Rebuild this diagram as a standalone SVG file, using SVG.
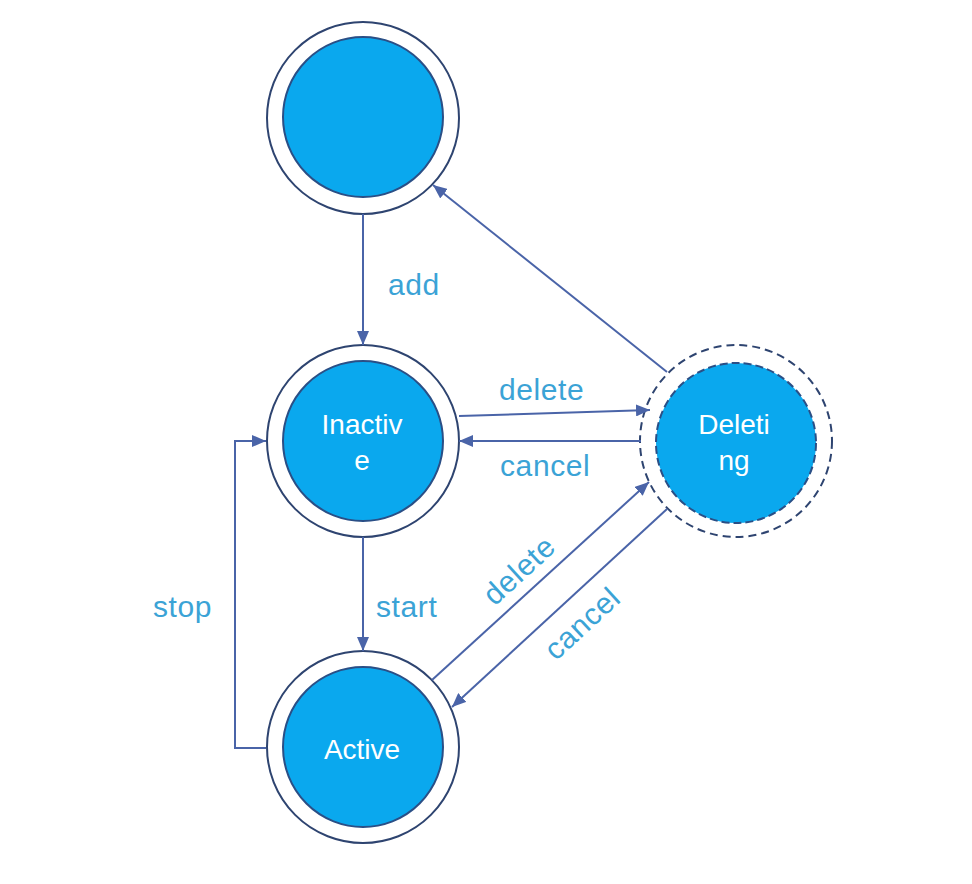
<svg xmlns="http://www.w3.org/2000/svg" width="972" height="884" viewBox="0 0 972 884">
<defs>
<style>
.outer{fill:#ffffff;stroke:#2e4470;stroke-width:2}
.inner{fill:#0aa8ee;stroke:#2a4f86;stroke-width:2}
.douter{fill:#ffffff;stroke:#2e4470;stroke-width:2;stroke-dasharray:8 5}
.dinner{fill:#0aa8ee;stroke:#2a4f86;stroke-width:2;stroke-dasharray:8 4}
.conn{fill:none;stroke:#4a64a8;stroke-width:2}
.ntext{font-family:"Liberation Sans",Arial,sans-serif;font-size:28px;fill:#ffffff;text-anchor:middle}
.ltext{font-family:"Liberation Sans",Arial,sans-serif;font-size:30px;fill:#3ba3d6;letter-spacing:0.6px}
</style>
<marker id="arr" viewBox="0 0 14 12" refX="14" refY="6" markerWidth="14" markerHeight="12" markerUnits="userSpaceOnUse" orient="auto">
<path d="M0,0 L14,6 L0,12 Z" fill="#4a64a8"/>
</marker>
</defs>
<rect width="972" height="884" fill="#ffffff"/>
<g id="start-node">
<circle class="outer" cx="363" cy="118" r="96"/>
<circle class="inner" cx="363" cy="117" r="80"/>
</g>
<g id="inactive">
<circle class="outer" cx="363" cy="441" r="96"/>
<circle class="inner" cx="363" cy="441" r="80"/>
<text class="ntext" x="362" y="434">Inactiv</text>
<text class="ntext" x="362" y="470">e</text>
</g>
<g id="deleting">
<circle class="douter" cx="736" cy="441" r="96"/>
<circle class="dinner" cx="736" cy="443" r="80"/>
<text class="ntext" x="734" y="434">Deleti</text>
<text class="ntext" x="734" y="470">ng</text>
</g>
<g id="active">
<circle class="outer" cx="363" cy="747" r="96"/>
<circle class="inner" cx="363" cy="747" r="80"/>
<text class="ntext" x="362" y="759">Active</text>
</g>
<g id="connectors">
<line class="conn" x1="363" y1="214" x2="363" y2="345" marker-end="url(#arr)"/>
<line class="conn" x1="667" y1="372" x2="433" y2="185" marker-end="url(#arr)"/>
<line class="conn" x1="459" y1="416" x2="650" y2="410" marker-end="url(#arr)"/>
<line class="conn" x1="641" y1="441" x2="459" y2="441" marker-end="url(#arr)"/>
<line class="conn" x1="363" y1="537" x2="363" y2="651" marker-end="url(#arr)"/>
<polyline class="conn" points="266,748 235,748 235,441 266,441" marker-end="url(#arr)"/>
<line class="conn" x1="432" y1="680" x2="649" y2="482" marker-end="url(#arr)"/>
<line class="conn" x1="667" y1="509" x2="452" y2="707" marker-end="url(#arr)"/>
</g>
<g id="labels">
<text class="ltext" x="388" y="295">add</text>
<text class="ltext" x="499" y="400">delete</text>
<text class="ltext" x="500" y="476">cancel</text>
<text class="ltext" x="376" y="617">start</text>
<text class="ltext" x="153" y="617">stop</text>
<text class="ltext" text-anchor="middle" transform="translate(526,578) rotate(-42.5)">delete</text>
<text class="ltext" text-anchor="middle" transform="translate(589,631) rotate(-42.5)">cancel</text>
</g>
</svg>
